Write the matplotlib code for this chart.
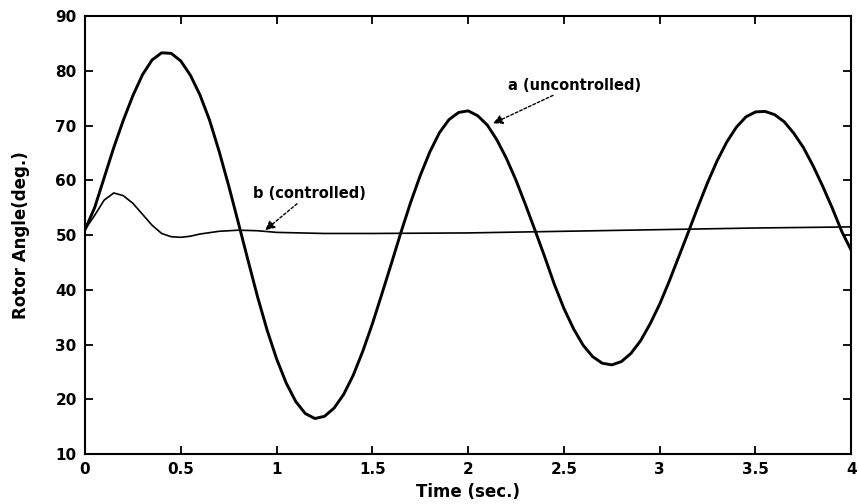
import numpy as np
import matplotlib
matplotlib.use('Agg')
import matplotlib.pyplot as plt

# time axis (sec.) and rotor angle values (deg.)
t_a = [0.0, 0.05, 0.10, 0.15, 0.20, 0.25, 0.30, 0.35, 0.40, 0.45,
       0.50, 0.55, 0.60, 0.65, 0.70, 0.75, 0.80, 0.85, 0.90, 0.95,
       1.00, 1.05, 1.10, 1.15, 1.20, 1.25, 1.30, 1.35, 1.40, 1.45,
       1.50, 1.55, 1.60, 1.65, 1.70, 1.75, 1.80, 1.85, 1.90, 1.95,
       2.00, 2.05, 2.10, 2.15, 2.20, 2.25, 2.30, 2.35, 2.40, 2.45,
       2.50, 2.55, 2.60, 2.65, 2.70, 2.75, 2.80, 2.85, 2.90, 2.95,
       3.00, 3.05, 3.10, 3.15, 3.20, 3.25, 3.30, 3.35, 3.40, 3.45,
       3.50, 3.55, 3.60, 3.65, 3.70, 3.75, 3.80, 3.85, 3.90, 3.95, 4.00]
uncontrolled = [51.0, 55.0, 60.5, 66.0, 71.0, 75.5, 79.3, 82.0, 83.3, 83.2,
                81.8, 79.2, 75.6, 71.0, 65.3, 59.0, 52.3, 45.5, 38.8, 32.7,
                27.4, 23.0, 19.6, 17.4, 16.5, 16.9, 18.4, 20.9, 24.4, 28.8,
                33.8, 39.3, 44.9, 50.6, 56.0, 60.9, 65.2, 68.7, 71.1, 72.4,
                72.7, 71.8, 70.1, 67.4, 64.0, 60.0, 55.5, 50.8, 46.0, 41.0,
                36.6, 32.9, 29.9, 27.8, 26.6, 26.3, 26.9, 28.4, 30.7, 33.8,
                37.4, 41.6, 46.1, 50.6, 55.2, 59.6, 63.6, 67.0, 69.7, 71.6,
                72.5, 72.6, 72.0, 70.7, 68.6, 66.0, 62.7, 59.0, 55.0, 50.7, 47.2]

t_b = [0.0, 0.05, 0.10, 0.15, 0.20, 0.25, 0.30, 0.35, 0.40, 0.45,
       0.50, 0.55, 0.60, 0.70, 0.80, 0.90, 1.00, 1.25, 1.50, 2.00,
       2.50, 3.00, 3.50, 4.00]
controlled = [51.0, 53.6, 56.4, 57.7, 57.2, 55.8, 53.8, 51.8, 50.3, 49.7,
              49.6, 49.8, 50.2, 50.7, 50.9, 50.8, 50.5, 50.3, 50.3, 50.4,
              50.7, 51.0, 51.3, 51.5]

fig = plt.figure(figsize=(8.59, 5.04), dpi=100)
ax = fig.add_axes([0.099, 0.099, 0.892, 0.869])

ax.plot(t_a, uncontrolled, color='black', lw=2.1)
ax.plot(t_b, controlled, color='black', lw=1.2)

ax.set_xlim(0, 4)
ax.set_ylim(10, 90)
ax.set_xticks(np.arange(0, 4.01, 0.5))
ax.set_xticklabels(['0', '0.5', '1', '1.5', '2', '2.5', '3', '3.5', '4'])
ax.set_yticks(np.arange(10, 91, 10))
ax.tick_params(direction='in', length=6, width=1.3, top=True, right=True,
               labelsize=11, pad=6)
for lab in ax.get_xticklabels() + ax.get_yticklabels():
    lab.set_fontweight('bold')
for s in ax.spines.values():
    s.set_linewidth(1.5)

ax.set_xlabel('Time (sec.)', fontsize=12, fontweight='bold', labelpad=4)
ax.set_ylabel('Rotor Angle(deg.)', fontsize=12, fontweight='bold', labelpad=18)

arrow = dict(arrowstyle='-|>', linestyle=(0, (2, 1.5)), color='black', lw=1,
             mutation_scale=14, shrinkA=0, shrinkB=0)
ax.annotate('a (uncontrolled)', xy=(2.13, 70.4), xytext=(2.21, 77.4),
            fontsize=10.5, fontweight='bold', va='center', ha='left',
            arrowprops=arrow)
ax.annotate('b (controlled)', xy=(0.94, 50.9), xytext=(0.877, 57.6),
            fontsize=10.5, fontweight='bold', va='center', ha='left',
            arrowprops=arrow)

fig.savefig('out.png', dpi=100)
